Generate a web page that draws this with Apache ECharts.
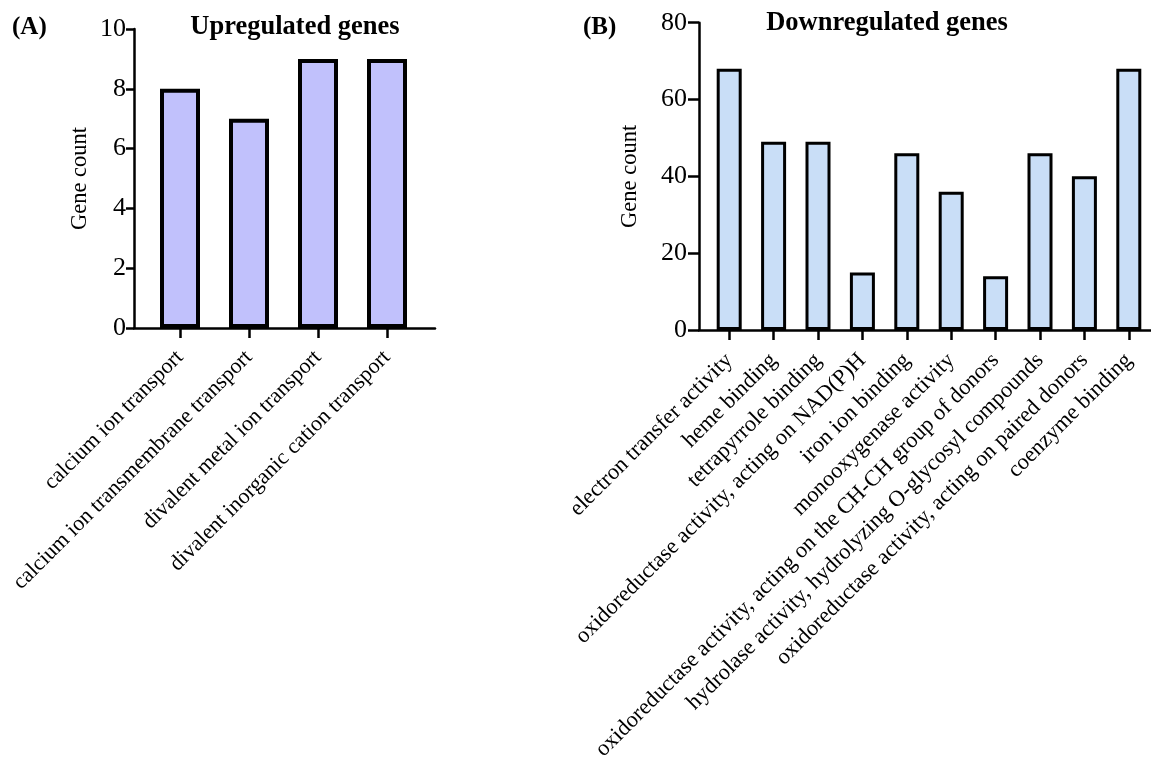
<!DOCTYPE html>
<html><head><meta charset="utf-8">
<script src="https://cdn.jsdelivr.net/npm/echarts@6/dist/echarts.min.js"></script>
<style>html,body{margin:0;padding:0;background:#fff}#c{width:1151px;height:772px}</style>
</head><body><div id="c"></div>
<script>
const upCategories = ['calcium ion transport', 'calcium ion transmembrane transport', 'divalent metal ion transport', 'divalent inorganic cation transport'];
const upCounts = [8, 7, 9, 9];
const upAxis = { min: 0, max: 10, interval: 2 };

const downCategories = ['electron transfer activity', 'heme binding', 'tetrapyrrole binding', 'oxidoreductase activity, acting on NAD(P)H', 'iron ion binding', 'monooxygenase activity', 'oxidoreductase activity, acting on the CH-CH group of donors', 'hydrolase activity, hydrolyzing O-glycosyl compounds', 'oxidoreductase activity, acting on paired donors', 'coenzyme binding'];
const downCounts = [68, 49, 49, 15, 46, 36, 14, 46, 40, 68];
const downAxis = { min: 0, max: 80, interval: 20 };

const FONT = "'Liberation Serif', 'Times New Roman', serif";
const chart = echarts.init(document.getElementById('c'), null, { renderer: 'canvas' });

function outerY(ax, gi, gap, tickLen, margin) {
  return {
    type: 'value', gridIndex: gi, min: ax.min, max: ax.max, interval: ax.interval,
    name: 'Gene count', nameLocation: 'middle', nameGap: gap,
    nameTextStyle: { fontFamily: FONT, fontSize: 22.5, color: '#000' },
    axisLine: { show: true, lineStyle: { color: '#000', width: 2.5 } },
    axisTick: { show: true, length: tickLen, lineStyle: { color: '#000', width: 2.5 } },
    axisLabel: { fontFamily: FONT, fontSize: 26, color: '#000', margin: margin },
    splitLine: { show: false }
  };
}
function innerY(ax, gi) {
  return { type: 'value', gridIndex: gi, min: ax.min, max: ax.max, interval: ax.interval, show: false, splitLine: { show: false } };
}
function outerX(gi) {
  return {
    type: 'value', gridIndex: gi, min: 0, max: 1,
    axisLine: { show: true, onZero: false, lineStyle: { color: '#000', width: 2.5 } },
    axisTick: { show: false }, axisLabel: { show: false }, splitLine: { show: false }
  };
}
function innerX(cats, gi, margin, fs) {
  return {
    type: 'category', gridIndex: gi, data: cats, boundaryGap: true,
    axisLine: { show: false },
    axisTick: { show: true, alignWithLabel: true, length: 10, lineStyle: { color: '#000', width: 2.5 } },
    axisLabel: { fontFamily: FONT, fontSize: fs, color: '#000', rotate: 45, margin: margin, interval: 0 },
    splitLine: { show: false }
  };
}

chart.setOption({
  animation: false,
  backgroundColor: '#fff',
  grid: [
    { left: 134, top: 29, width: 301, height: 299 },
    { left: 145.5, top: 29, width: 276, height: 299 },
    { left: 699, top: 22.7, width: 461, height: 307.3 },
    { left: 707, top: 22.7, width: 446.3, height: 307.3 }
  ],
  xAxis: [outerX(0), innerX(upCategories, 1, 26, 22), outerX(2), innerX(downCategories, 3, 27, 22.5)],
  yAxis: [outerY(upAxis, 0, 42, 8, 8), innerY(upAxis, 1), outerY(downAxis, 2, 57, 11, 12), innerY(downAxis, 3)],
  series: [
    { type: 'bar', xAxisIndex: 1, yAxisIndex: 1, data: upCounts, barWidth: 40,
      itemStyle: { color: '#c1c1fc', borderColor: '#000', borderWidth: 4 } },
    { type: 'bar', xAxisIndex: 3, yAxisIndex: 3, data: downCounts, barWidth: 25,
      itemStyle: { color: '#c9def7', borderColor: '#000', borderWidth: 3 } }
  ],
  graphic: [
    { type: 'text', left: 12, top: 15, style: { text: '(A)', fontFamily: FONT, fontSize: 25, fontWeight: 'bold', fill: '#000' } },
    { type: 'text', left: 583, top: 15, style: { text: '(B)', fontFamily: FONT, fontSize: 25, fontWeight: 'bold', fill: '#000' } },
    { type: 'text', x: 295, y: 27, style: { text: 'Upregulated genes', fontFamily: FONT, fontSize: 26.5, fontWeight: 'bold', fill: '#000', textAlign: 'center', textVerticalAlign: 'middle' } },
    { type: 'text', x: 887, y: 23, style: { text: 'Downregulated genes', fontFamily: FONT, fontSize: 26.5, fontWeight: 'bold', fill: '#000', textAlign: 'center', textVerticalAlign: 'middle' } }
  ]
});
</script></body></html>
